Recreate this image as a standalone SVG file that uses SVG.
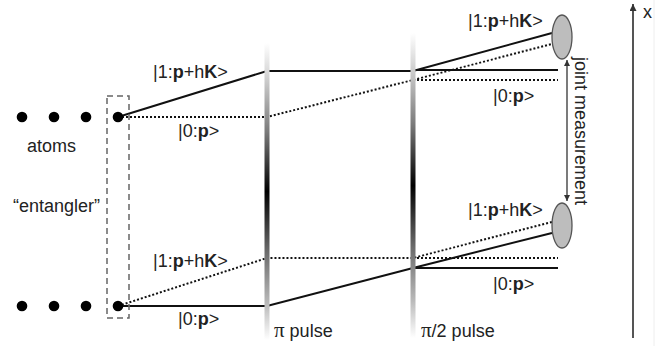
<svg xmlns="http://www.w3.org/2000/svg" width="672" height="347" viewBox="0 0 672 347">
<defs>
<linearGradient id="pulse" x1="0" y1="0" x2="0" y2="1">
<stop offset="0" stop-color="#ffffff"/>
<stop offset="0.1" stop-color="#d8d8d8"/>
<stop offset="0.3" stop-color="#7a7a7a"/>
<stop offset="0.5" stop-color="#000000"/>
<stop offset="0.7" stop-color="#6a6a6a"/>
<stop offset="0.88" stop-color="#bbbbbb"/>
<stop offset="1" stop-color="#ffffff"/>
</linearGradient>
<marker id="ah" viewBox="0 0 10 10" refX="10" refY="5" markerWidth="6" markerHeight="6" orient="auto-start-reverse" markerUnits="userSpaceOnUse">
<path d="M0,0 L10,5 L0,10 z" fill="#333"/>
</marker>
<marker id="ax" viewBox="0 0 10 10" refX="10" refY="5" markerWidth="7" markerHeight="7" orient="auto" markerUnits="userSpaceOnUse">
<path d="M0,0 L10,5 L0,10 z" fill="#333"/>
</marker>
</defs>
<style>
text{font-family:"Liberation Sans",Arial,sans-serif;font-size:18px;fill:#222}
.b{font-weight:bold}
.pi{font-family:"Liberation Serif","Times New Roman",serif;font-size:21px}
.solid{stroke:#111;stroke-width:2;fill:none}
.dot{stroke:#111;stroke-width:2;fill:none;stroke-dasharray:2 2}
.atom{fill:#000}
.det{fill:#bdbdbd;stroke:#555;stroke-width:1.3}
</style>
<rect width="672" height="347" fill="#fff"/>

<g id="axis-guide">
<line x1="654" y1="0" x2="654" y2="346" stroke="#eeeeee" stroke-width="1"/>
</g>

<g id="connectors">
<polyline class="solid" points="118,117 267,71 413,71 552,33"/>
<line class="solid" x1="413" y1="70" x2="558" y2="70"/>
<polyline class="dot" points="118,117 267,117 413,80 552,44"/>
<line class="dot" x1="413" y1="80" x2="558" y2="80"/>
<polyline class="dot" points="118,306 267,258 413,258 552,222"/>
<line class="dot" x1="413" y1="258" x2="558" y2="258"/>
<polyline class="solid" points="118,306 267,306 413,268 552,233"/>
<line class="solid" x1="413" y1="268" x2="558" y2="268"/>
<line x1="567" y1="201" x2="567" y2="60" stroke="#333" stroke-width="1.3" marker-start="url(#ah)" marker-end="url(#ah)"/>
</g>

<g id="entangler">
<rect x="107" y="96" width="22" height="222" fill="none" stroke="#666" stroke-width="1.5" stroke-dasharray="6 4"/>
<text x="13" y="212">“entangler”</text>
</g>

<g id="atoms-top">
<circle class="atom" cx="22" cy="117" r="5.3"/>
<circle class="atom" cx="54" cy="117" r="5.3"/>
<circle class="atom" cx="86" cy="117" r="5.3"/>
<circle class="atom" cx="118" cy="117" r="5.3"/>
</g>
<g id="atoms-bottom">
<circle class="atom" cx="22" cy="306" r="5.3"/>
<circle class="atom" cx="54" cy="306" r="5.3"/>
<circle class="atom" cx="86" cy="306" r="5.3"/>
<circle class="atom" cx="118" cy="306" r="5.3"/>
</g>
<g id="atoms-label"><text x="27" y="152">atoms</text></g>

<g id="pi-pulse">
<rect x="264.5" y="43" width="5" height="297" fill="url(#pulse)"/>
<text x="274" y="337"><tspan class="pi">π</tspan> pulse</text>
</g>
<g id="pi2-pulse">
<rect x="410.5" y="33" width="5" height="305" fill="url(#pulse)"/>
<text x="421" y="337"><tspan class="pi">π</tspan>/2 pulse</text>
</g>

<g id="detector-top"><ellipse class="det" cx="562" cy="37" rx="10" ry="22"/></g>
<g id="detector-bottom"><ellipse class="det" cx="562" cy="225.5" rx="10" ry="22.5"/></g>

<g id="labels">
<text x="153" y="77.5">|1:<tspan class="b">p</tspan>+h<tspan class="b">K</tspan>&gt;</text>
<text x="178" y="136.5">|0:<tspan class="b">p</tspan>&gt;</text>
<text x="153" y="266.5">|1:<tspan class="b">p</tspan>+h<tspan class="b">K</tspan>&gt;</text>
<text x="178" y="324.5">|0:<tspan class="b">p</tspan>&gt;</text>
<text x="468" y="27">|1:<tspan class="b">p</tspan>+h<tspan class="b">K</tspan>&gt;</text>
<text x="493" y="101.5">|0:<tspan class="b">p</tspan>&gt;</text>
<text x="468" y="216">|1:<tspan class="b">p</tspan>+h<tspan class="b">K</tspan>&gt;</text>
<text x="493" y="290">|0:<tspan class="b">p</tspan>&gt;</text>
</g>

<g id="joint-measurement">
<text transform="translate(575,57) rotate(90)">joint measurement</text>
</g>

<g id="x-axis">
<line x1="633" y1="338" x2="633" y2="4" stroke="#555" stroke-width="2" marker-end="url(#ax)"/>
<text x="643" y="18">x</text>
</g>
</svg>
